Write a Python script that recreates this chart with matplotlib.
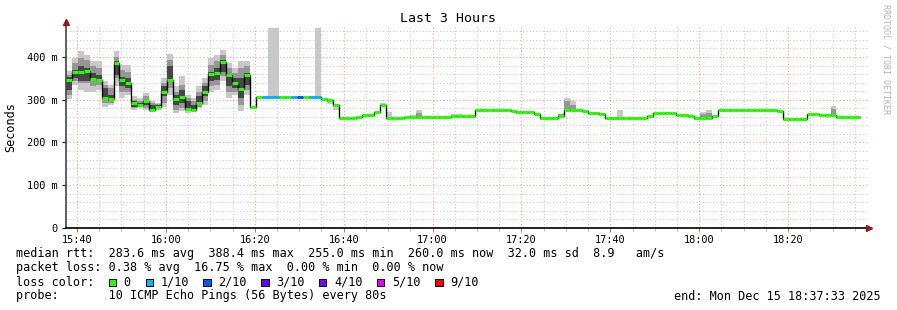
import numpy as np
import matplotlib
matplotlib.use('Agg')
import matplotlib.pyplot as plt
from matplotlib.patches import Rectangle

plt.rcParams['font.family'] = 'DejaVu Sans Mono'

# x axis in minutes relative to 15:40, one sample every 80 s starting 15:37:33
start_min = -2.45
step_min = 80 / 60

# median rtt per step (ms)
median_ms = [347, 364, 365, 368, 349, 346, 304, 301, 386, 347, 340, 293, 288, 297, 276, 283,
             318, 347, 301, 307, 279, 276, 293, 318, 361, 362, 388, 358, 339, 325, 357, 283,
             307, 307, 307, 307, 307, 307, 307, 307, 307, 307, 307, 302, 300, 287,
             258, 258, 258, 260, 264, 264, 271, 287, 258, 258, 258, 259, 260, 260, 260,
             259, 259, 259, 259, 263, 263, 263, 263, 276, 276, 276, 276, 276, 276, 274,
             271, 271, 271, 267, 257, 257, 257, 261, 276, 276, 276, 274, 268, 268, 266,
             258, 258, 258, 258, 258, 258, 258, 261, 269, 269, 269, 269, 265, 265, 263,
             257, 257, 257, 261, 276, 276, 276, 276, 276, 276, 276, 276, 276, 276, 273,
             256, 256, 256, 256, 267, 267, 264, 264, 264, 260, 260, 260, 260]

# steps with lost pings (count out of 10)
loss_steps = [33, 34, 35, 38, 39, 41, 42]
loss_count = [1, 1, 1, 1, 2, 1, 1]

# smoke bands for the noisy first part (outer / middle / inner)
smoke_lo1 = [302, 335, 323, 319, 319, 323, 284, 288, 331, 304, 311, 276, 280, 276, 273, 276,
             284, 311, 269, 273, 269, 273, 280, 288, 319, 323, 343, 304, 311, 273, 311]
smoke_hi1 = [368, 397, 413, 405, 390, 390, 343, 335, 413, 382, 382, 308, 304, 315, 296, 292,
             351, 407, 331, 355, 311, 304, 331, 351, 397, 405, 417, 386, 374, 390, 390]
smoke_lo2 = [311, 343, 339, 339, 331, 335, 292, 292, 350, 319, 319, 280, 282, 280, 276, 279,
             292, 327, 276, 280, 273, 273, 284, 296, 331, 335, 355, 319, 319, 288, 323]
smoke_hi2 = [358, 386, 397, 393, 378, 374, 335, 327, 401, 370, 366, 300, 297, 308, 292, 290,
             339, 393, 319, 335, 304, 296, 319, 339, 382, 390, 405, 374, 362, 374, 378]
smoke_lo3 = [323, 350, 343, 343, 343, 343, 304, 296, 358, 331, 327, 284, 284, 288, 276, 280,
             308, 347, 288, 292, 276, 276, 288, 308, 343, 347, 366, 331, 327, 304, 335]
smoke_hi3 = [354, 370, 378, 374, 362, 358, 327, 311, 390, 354, 350, 296, 292, 300, 288, 288,
             331, 378, 311, 323, 296, 288, 308, 331, 366, 374, 393, 358, 351, 351, 362]

# isolated smoke later on (band 0 = light, 1 = middle)
extra_step = [34, 35, 42, 44, 45, 53, 54, 58, 59, 59, 62, 65, 66, 83, 84, 84, 85, 85,
              93, 107, 107, 108, 108, 129, 129]
extra_lo = [307, 307, 307, 291, 276, 287, 258, 260, 260, 260, 259, 263, 263, 261, 276, 276, 276, 276,
            258, 257, 257, 257, 257, 264, 264]
extra_hi = [468, 468, 468, 300, 287, 292, 272, 264, 276, 268, 262, 266, 266, 267, 304, 298, 298, 288,
            276, 272, 267, 276, 268, 286, 278]
extra_band = [0, 0, 0, 0, 0, 0, 0, 0, 0, 1, 0, 0, 0, 1, 0, 1, 0, 1,
              0, 0, 1, 0, 1, 0, 1]

loss_levels = ['0', '1/10', '2/10', '3/10', '4/10', '5/10', '9/10']
loss_level_colors = ['#26ff00', '#00b8ff', '#0059ff', '#5e00ff', '#7e00ff', '#dd00ff', '#ff0000']
band_colors = ['#c8c8c8', '#969696', '#464646']

tick_pos = [0, 20, 40, 60, 80, 100, 120, 140, 160]
tick_labels = ['15:40', '16:00', '16:20', '16:40', '17:00', '17:20', '17:40', '18:00', '18:20']

W, H = 897, 310
fig = plt.figure(figsize=(W / 100, H / 100), dpi=100)
fig.patch.set_facecolor('white')
ax = fig.add_axes([66 / W, (H - 228) / H, 803 / W, 201.8 / H])

n = len(median_ms)
edges = start_min + np.arange(n + 1) * step_min
left = edges[:-1]
med = np.array(median_ms)

# smoke
k = len(smoke_lo1)
for lo, hi, c in [(smoke_lo1, smoke_hi1, band_colors[0]),
                  (smoke_lo2, smoke_hi2, band_colors[1]),
                  (smoke_lo3, smoke_hi3, band_colors[2])]:
    lo = np.array(lo); hi = np.array(hi)
    ax.bar(left[:k], hi - lo, width=step_min, bottom=lo, align='edge', color=c, linewidth=0, zorder=2)
for s, lo, hi, b in zip(extra_step, extra_lo, extra_hi, extra_band):
    ax.bar(left[s], hi - lo, width=step_min, bottom=lo, align='edge',
           color=band_colors[b], linewidth=0, zorder=2 + b * 0.1)

# median line, black step plus loss-coloured segments
ax.stairs(med, edges, baseline=None, color='black', lw=1.0, zorder=3)
loss = np.zeros(n, dtype=int)
loss[loss_steps] = loss_count
seg_colors = [loss_level_colors[min(l, 6)] for l in loss]
ax.hlines(med, edges[:-1], edges[1:], colors=seg_colors, lw=2.2, zorder=4)

ax.set_xlim(-2.475, 178.2)
ax.set_ylim(0, 472)

ax.set_xticks(tick_pos)
ax.set_xticklabels(tick_labels)
ax.set_xticks(np.arange(-0, 180, 5), minor=True)
ax.set_yticks([0, 100, 200, 300, 400])
ax.set_yticklabels(['0', '100 m', '200 m', '300 m', '400 m'])
ax.set_yticks(np.arange(0, 472, 20), minor=True)

ax.set_axisbelow(True)
ax.grid(which='minor', color='#cccccc', linestyle=(0, (1, 2)), lw=0.8)
ax.grid(which='major', color='#ff9a9a', linestyle=(0, (1, 2)), lw=0.8)

ax.tick_params(axis='x', which='major', length=3, color='#ff6060', labelsize=7.4, pad=2)
ax.tick_params(axis='x', which='minor', length=2, color='#bbbbbb')
ax.tick_params(axis='y', which='major', length=3, color='black', labelsize=7.4, pad=3)
ax.tick_params(axis='y', which='minor', length=0)

for sp in ['top', 'right']:
    ax.spines[sp].set_visible(False)
ax.spines['left'].set_color('#444444')
ax.spines['bottom'].set_color('black')
ax.spines['left'].set_linewidth(1.2)
ax.spines['bottom'].set_linewidth(1.2)

# axis arrows
ax.plot([0], [1.02], marker='^', color='#8b1a1a', ms=4, transform=ax.transAxes, clip_on=False, zorder=6)
ax.plot([1.0], [0], marker='>', color='#8b1a1a', ms=4, transform=ax.transAxes, clip_on=False, zorder=6)

fig.text(448 / W, 1 - 19 / H, 'Last 3 Hours', ha='center', va='center', fontsize=9.5)
fig.text(11 / W, 1 - 127 / H, 'Seconds', rotation=90, ha='center', va='center', fontsize=8.5)
fig.text(886 / W, 1 - 59 / H, 'RRDTOOL / TOBI OETIKER', rotation=270, ha='center', va='center',
         fontsize=6, color='#b5b5b5')

fs = 8.5
fig.text(16 / W, 1 - 254 / H,
         'median rtt:  283.6 ms avg  388.4 ms max  255.0 ms min  260.0 ms now  32.0 ms sd  8.9   am/s',
         ha='left', va='center', fontsize=fs)
fig.text(16 / W, 1 - 268 / H,
         'packet loss: 0.38 % avg  16.75 % max  0.00 % min  0.00 % now',
         ha='left', va='center', fontsize=fs)
fig.text(16 / W, 1 - 282 / H, 'loss color:', ha='left', va='center', fontsize=fs)
sq_x = [108.7, 145.7, 203, 261, 318.7, 376.7, 435]
txt_x = [123, 161, 218, 276, 334, 391.7, 450]
for sx, tx, lab, c in zip(sq_x, txt_x, loss_levels, loss_level_colors):
    fig.add_artist(Rectangle((sx / W, 1 - 286 / H), 7.5 / W, 7.5 / H, transform=fig.transFigure,
                             facecolor=c, edgecolor='black', lw=0.7))
    fig.text(tx / W, 1 - 282 / H, lab, ha='left', va='center', fontsize=fs)
fig.text(16 / W, 1 - 296 / H, 'probe:       10 ICMP Echo Pings (56 Bytes) every 80s',
         ha='left', va='center', fontsize=fs)
fig.text(881 / W, 1 - 296 / H, 'end: Mon Dec 15 18:37:33 2025', ha='right', va='center', fontsize=fs)

fig.savefig('out.png', dpi=100)
